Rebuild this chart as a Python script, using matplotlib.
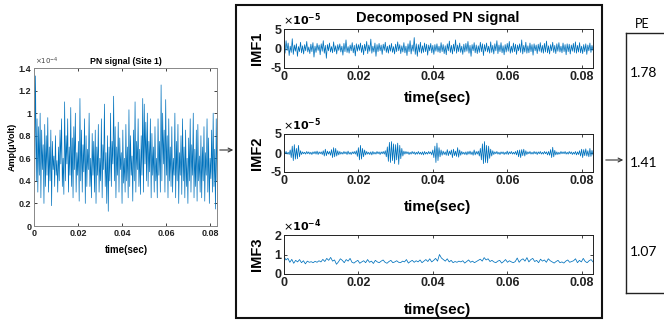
import numpy as np
import matplotlib
matplotlib.use('Agg')
import matplotlib.pyplot as plt
from matplotlib.lines import Line2D
from matplotlib.patches import Rectangle, FancyArrowPatch
from matplotlib.ticker import FuncFormatter

# ---- data (amplitudes, in units of 1e-6 V) ----
pn_signal = [
    110, 60, 133, 40, 95, 30, 88, 45, 100, 25, 85, 50, 72, 20, 90, 35, 80, 45, 96, 30,
    70, 40, 85, 18, 75, 50, 62, 35, 80, 45, 58, 30, 70, 40, 85, 55, 95, 35, 60, 28,
    110, 40, 80, 55, 95, 30, 70, 45, 105, 35, 78, 25, 88, 50, 100, 30, 65, 45, 75, 22,
    113, 40, 85, 30, 72, 48, 95, 20, 80, 35, 68, 50, 100, 35, 60, 25, 82, 45, 75, 30,
    85, 20, 70, 45, 90, 30, 60, 40, 95, 25, 72, 50, 108, 35, 65, 20, 80, 13, 70, 40,
    100, 35, 75, 55, 115, 40, 88, 25, 70, 45, 92, 30, 78, 50, 65, 20, 85, 38, 60, 30,
    90, 40, 70, 25, 103, 35, 80, 45, 62, 22, 85, 40, 110, 30, 75, 50, 95, 35, 68, 28,
    80, 45, 113, 30, 108, 55, 92, 40, 100, 35, 75, 48, 95, 25, 82, 45, 70, 30, 88, 40,
    60, 25, 95, 45, 75, 30, 125, 40, 100, 55, 85, 30, 112, 45, 80, 25, 95, 40, 70, 35,
    88, 30, 60, 45, 100, 25, 75, 40, 90, 20, 65, 45, 80, 28, 95, 40, 70, 25, 85, 35,
    60, 20, 78, 40, 95, 30, 72, 45, 100, 25, 68, 35, 85, 22, 90, 40, 62, 30, 80, 25,
    70, 40, 88, 22, 65, 45, 95, 30, 78, 20, 60, 42, 85, 30, 100, 35, 68, 15, 95, 40,
]

imf1 = [
    8, -12, 20, -5, 14, -18, 6, -10, 25, -15, 9, -7, 12, -20, 5, -8, 16, -11, 7, -14, 10, -6, 18, -9, 4,
    -13, 11, -8, 15, -22, 6, -10, 13, -5, 9, -16, 12, -7, 20, -12, 8, -25, 10, -6, 14, -9, 5, -11, 17, -8,
    7, -14, 10, -5, 12, -9, 6, -17, 13, -8, 22, -10, 5, -12, 9, -6, 15, -11, 8, -19, 12, -7, 10, -5, 14,
    -10, 8, -16, 11, -6, 18, -13, 9, -7, 24, -12, 6, -9, 14, -20, 10, -8, 13, -6, 9, -15, 11, -5, 16, -10,
    6, -12, 9, -7, 13, -10, 5, -14, 11, -8, 17, -6, 10, -13, 7, -9, 15, -11, 6, -18, 12, -8, 20, -14, 9,
    -7, 28, -15, 12, -20, 10, -9, 16, -12, 7, -10, 14, -8, 11, -17, 9, -6, 13, -11, 8, -15, 10, -7, 12, -9,
    6, -11, 15, -8, 10, -13, 7, -16, 12, -6, 19, -10, 8, -14, 11, -7, 22, -12, 9, -8, 14, -10, 6, -15, 11,
    -9, 13, -7, 18, -12, 8, -20, 10, -6, 15, -11, 9, -13, 7, -10, 16, -8, 12, -18, 10, -7, 14, -9, 6, -12,
    17, -10, 8, -14, 12, -6, 20, -13, 9, -8, 15, -11, 7, -16, 10, -9, 13, -7, 18, -12, 6, -10, 14, -8, 11,
    -15, 9, -6, 12, -10, 22, -14, 8, -9, 16, -12, 7, -11, 14, -8, 10, -17, 12, -6, 9, -13, 11, -7, 15, -10,
    8, -12, 13, -9, 19, -11, 7, -14, 10, -6, 16, -10, 8, -13, 12, -7, 15, -9, 6, -11, 14, -8, 10, -16, 12,
    -8, 11, -14, 9, -7, 13, -10, 17, -12, 8, -9, 15, -11, 6, -13, 10, -8, 12, -15, 9, -6, 14, -10, 8, -5,
]

imf2 = [
    3, -2, 4, -3, 2, -4, 8, -12, 18, -20, 22, -16, 12, -15, 20, -10, 6, -4, 3, -2, 2, -3, 4, -2, 3,
    -3, 2, -4, 3, -2, 4, -3, 5, -4, 3, -2, 3, -4, 6, -8, 10, -7, 5, -3, 4, -6, 9, -12, 14, -10,
    12, -8, 6, -5, 4, -3, 2, -3, 4, -2, 3, -4, 5, -3, 2, -4, 3, -2, 4, -3, 6, -9, 14, -18, 20,
    -16, 12, -10, 8, -5, 4, -3, 2, -4, 3, -5, 4, -3, 2, -3, 4, -2, 3, -4, 3, -2, 4, -3, 6, -10,
    16, -22, 28, -25, 30, -20, 24, -28, 22, -18, 26, -30, 20, -15, 12, -8, 5, -3, 4, -2, 3, -4, 2, -3, 4,
    -2, 3, -4, 2, -3, 4, -3, 2, -4, 3, -5, 4, -3, 2, -3, 4, -2, 3, -5, 8, -12, 18, -25, 26, -20,
    14, -10, 8, -6, 5, -4, 3, -6, 9, -7, 5, -4, 8, -12, 10, -7, 5, -9, 14, -11, 8, -6, 4, -3, 2,
    -4, 3, -5, 4, -3, 5, -4, 3, -6, 8, -5, 4, -3, 5, -8, 12, -18, 24, -28, 30, -25, 20, -26, 18, -14,
    10, -8, 6, -4, 3, -2, 4, -3, 2, -4, 3, -2, 3, -4, 2, -3, 5, -4, 3, -2, 4, -3, 2, -3, 4,
    -5, 7, -10, 8, -12, 9, -7, 10, -8, 6, -4, 3, -2, 4, -3, 2, -3, 4, -2, 3, -4, 3, -2, 4, -3,
    2, -3, 4, -2, 3, -5, 4, -6, 9, -12, 15, -10, 7, -5, 3, -4, 2, -3, 4, -2, 3, -2, 4, -3, 2,
    -3, 4, -2, 3, -4, 2, -3, 4, -5, 3, -4, 6, -8, 10, -12, 9, -7, 11, -8, 6, -10, 12, -9, 7, -5,
]

imf3 = [
    90, 72, 80, 60, 75, 55, 70, 62, 74, 58, 68, 52, 66, 60, 63, 58, 65, 60, 68, 62,
    75, 64, 80, 70, 85, 66, 72, 50, 62, 78, 70, 58, 74, 66, 80, 60, 56, 64, 70, 55,
    62, 68, 58, 74, 60, 66, 54, 70, 62, 58, 66, 72, 60, 55, 64, 70, 58, 62, 68, 60,
    58, 66, 62, 74, 56, 64, 70, 60, 68, 62, 72, 58, 66, 74, 64, 78, 62, 70, 80, 66,
    100, 82, 74, 66, 78, 62, 70, 58, 64, 60, 66, 62, 68, 56, 64, 72, 60, 66, 58, 64,
    70, 76, 66, 84, 72, 78, 64, 70, 62, 58, 66, 70, 56, 64, 74, 60, 68, 62, 58, 64,
    82, 60, 72, 78, 66, 84, 62, 74, 80, 64, 70, 58, 76, 66, 72, 60, 78, 68, 62, 56,
    64, 70, 58, 62, 56, 66, 72, 60, 64, 68, 78, 58, 70, 62, 80, 64, 58, 68, 74, 62,
]

pe_values = ['1.78', '1.41', '1.07']
x_ticks = [0, 0.02, 0.04, 0.06, 0.08]
t_end = 0.083

W, H = 664, 324
BLUE = '#0072BD'
plt.rcParams['font.family'] = ['Liberation Sans', 'DejaVu Sans']

fig = plt.figure(figsize=(W / 100, H / 100), dpi=100)


def box(l, t, r, b):
    return [l / W, 1 - b / H, (r - l) / W, (b - t) / H]


def fx(x, y):
    return x / W, 1 - y / H


fmt = FuncFormatter(lambda v, p: '%g' % round(v, 6))


def style(ax, size, col):
    ax.set_xlim(0, t_end)
    ax.set_xticks(x_ticks)
    ax.xaxis.set_major_formatter(fmt)
    ax.yaxis.set_major_formatter(fmt)
    ax.tick_params(direction='in', length=2.5, width=0.6, top=True, right=True,
                   labelsize=size, pad=2, colors='#222222')
    for lbl in ax.get_xticklabels() + ax.get_yticklabels():
        lbl.set_fontweight('bold')
    for s in ax.spines.values():
        s.set_color(col)
        s.set_linewidth(0.7)


# ---- left panel: PN signal ----
ax0 = fig.add_axes(box(34, 68, 217, 226))
t0 = np.linspace(0, t_end, len(pn_signal))
ax0.plot(t0, np.array(pn_signal) / 100, color=BLUE, lw=0.5)
ax0.set_ylim(0, 1.4)
ax0.set_yticks(np.arange(0, 1.41, 0.2))
style(ax0, 6.5, '#888888')
fig.text(*fx(126, 62), 'PN signal (Site 1)', ha='center', va='center', fontsize=6.3, fontweight='bold')
fig.text(*fx(35, 61), r'$\times10^{-4}$', ha='left', va='center', fontsize=5, color='#444444')
fig.text(*fx(126, 250), 'time(sec)', ha='center', va='center', fontsize=7, fontweight='bold')
fig.text(*fx(12, 147), 'Amp(\u03bcVolt)', ha='center', va='center', rotation=90, fontsize=6.5, fontweight='bold')

# ---- middle panels: IMFs (name, series, top/bottom px, ylim, yticks, exponent, divisor, xlabel y) ----
panels = [
    ('IMF1', imf1, 29, 68, (-5, 5), [-5, 0, 5], '-5', 10.0, 98),
    ('IMF2', imf2, 134, 172, (-5, 5), [-5, 0, 5], '-5', 10.0, 207),
    ('IMF3', imf3, 235, 274, (0, 2), [0, 1, 2], '-4', 100.0, 310),
]
for name, vals, top, bot, ylim, yt, expo, div, xl_y in panels:
    ax = fig.add_axes(box(284, top, 593, bot))
    tt = np.linspace(0, t_end, len(vals))
    ax.plot(tt, np.array(vals) / div, color=BLUE, lw=0.55)
    ax.set_ylim(*ylim)
    ax.set_yticks(yt)
    style(ax, 9, '#222222')
    fig.text(*fx(283, top - 9), r'$\times\mathbf{10^{%s}}$' % expo, ha='left', va='center', fontsize=8)
    fig.text(*fx(257, (top + bot) / 2), name, ha='center', va='center', rotation=90,
             fontsize=10.5, fontweight='bold')
    fig.text(*fx(438, xl_y), 'time(sec)', ha='center', va='center', fontsize=11, fontweight='bold')

fig.text(*fx(438, 18), 'Decomposed PN signal', ha='center', va='center', fontsize=10.5, fontweight='bold')

# frame around decomposed panels
fig.patches.append(Rectangle(fx(236, 318), (602 - 236) / W, (318 - 5) / H, transform=fig.transFigure,
                             fill=False, edgecolor='#111111', lw=1.5))

# PE box (open on the right edge)
for xs, ys in [((626, 626), (33, 293)), ((626, 670), (33, 33)), ((626, 670), (293, 293))]:
    fig.add_artist(Line2D([x / W for x in xs], [1 - y / H for y in ys], color='#222222', lw=1.0,
                          transform=fig.transFigure))
fig.text(*fx(642, 24), 'PE', ha='center', va='center', fontsize=9, family='Lato')
for lbl, y in zip(pe_values, [73, 163, 252]):
    fig.text(*fx(630, y), lbl, ha='left', va='center', fontsize=10, family='Lato')

# arrows
for (x1, x2, y) in [(217, 236, 150), (603, 626, 160)]:
    fig.patches.append(FancyArrowPatch(fx(x1, y), fx(x2, y), transform=fig.transFigure,
                                       arrowstyle='->', mutation_scale=7, color='#333333', lw=0.8))

fig.savefig('out.png', dpi=100, facecolor='white')
